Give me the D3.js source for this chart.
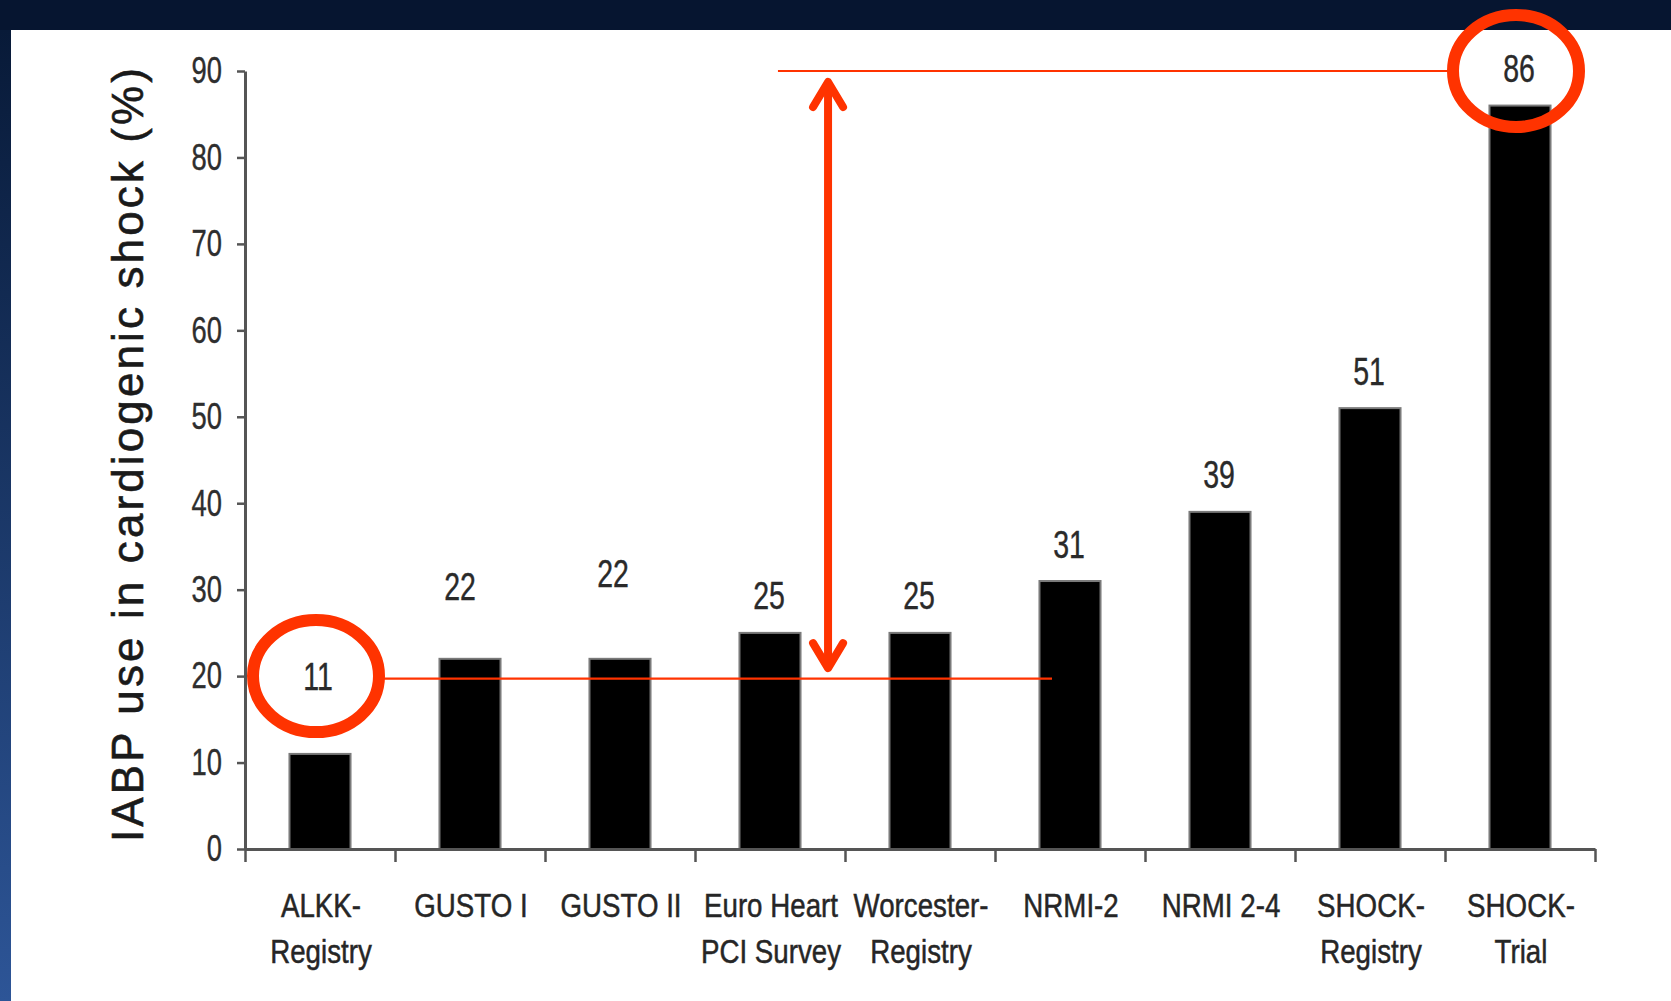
<!DOCTYPE html>
<html>
<head>
<meta charset="utf-8">
<script src="https://cdn.jsdelivr.net/npm/d3@7"></script>
<style>
  html, body { margin: 0; padding: 0; background: #061530; }
  svg { display: block; }
</style>
</head>
<body>
<svg id="chart" width="1671" height="1001"></svg>
<script>
// ---- data ----
const categories = [
  ["ALKK-", "Registry"],
  ["GUSTO I"],
  ["GUSTO II"],
  ["Euro Heart", "PCI Survey"],
  ["Worcester-", "Registry"],
  ["NRMI-2"],
  ["NRMI 2-4"],
  ["SHOCK-", "Registry"],
  ["SHOCK-", "Trial"]
];
const iabpUse = [11, 22, 22, 25, 25, 31, 39, 51, 86];
const yTicks = [0, 10, 20, 30, 40, 50, 60, 70, 80, 90];
const yTitle = "IABP use in cardiogenic shock (%)";
// reference levels joined by the double arrow (lowest vs. highest study)
const lowLevel = 20;
const highLevel = 90;

// ---- layout ----
const W = 1671, H = 1001;
const plot = { left: 245, right: 1595, top: 71, bottom: 849 };
const sans = "'Liberation Sans',Arial,Helvetica,sans-serif";
const red = "#ff3300";
const n = categories.length;
// horizontal squeeze giving the narrow lettering of the chart labels
const tickSqueeze = 0.74, valueSqueeze = 0.75, catSqueeze = 0.84;

const svg = d3.select("#chart");

// slide frame: dark top band, blue gradient strip on the left, white panel
const defs = svg.append("defs");
const grad = defs.append("linearGradient")
  .attr("id", "sideStrip").attr("x1", 0).attr("y1", 0).attr("x2", 0).attr("y2", 1);
grad.append("stop").attr("offset", "0%").attr("stop-color", "#081a38");
grad.append("stop").attr("offset", "100%").attr("stop-color", "#2d5597");

svg.append("rect").attr("width", W).attr("height", H).attr("fill", "#061530");
svg.append("rect").attr("x", 0).attr("y", 30).attr("width", 11).attr("height", H - 30)
  .attr("fill", "url(#sideStrip)");
svg.append("rect").attr("x", 11).attr("y", 30).attr("width", W - 11).attr("height", H - 30)
  .attr("fill", "#ffffff");

// scales
const x = d3.scaleBand()
  .domain(d3.range(n))
  .range([plot.left, plot.right])
  .paddingInner(0.593)
  .paddingOuter(0.2965);
const xi = d3.scaleLinear().domain([0, n]).range([plot.left, plot.right]);
const y = d3.scaleLinear().domain([0, 90]).range([plot.bottom, plot.top]);
const cx = i => x(i) + x.bandwidth() / 2;

// bars
svg.append("g").selectAll("rect")
  .data(iabpUse)
  .join("rect")
  .attr("x", (d, i) => x(i))
  .attr("y", d => y(d))
  .attr("width", x.bandwidth())
  .attr("height", d => y(0) - y(d))
  .attr("fill", "#000")
  .attr("stroke", "#7a7a7a")
  .attr("stroke-width", 2);

// y axis
const tickPad = 23;
const yAxis = svg.append("g")
  .attr("transform", `translate(${plot.left},0)`)
  .call(d3.axisLeft(y).tickValues(yTicks).tickSize(8).tickSizeOuter(0));
yAxis.select(".domain").attr("stroke", "#555").attr("stroke-width", 3);
yAxis.selectAll(".tick line").attr("stroke", "#555").attr("stroke-width", 2.5);
yAxis.selectAll(".tick text")
  .attr("font-family", sans).attr("font-size", 37).attr("fill", "#2e2e2e")
  .attr("stroke", "#2e2e2e").attr("stroke-width", 0.4)
  .attr("x", -tickPad / tickSqueeze)
  .attr("transform", `scale(${tickSqueeze},1)`);

// x axis: ticks sit on the category boundaries
const xAxis = svg.append("g")
  .attr("transform", `translate(0,${plot.bottom})`)
  .call(d3.axisBottom(xi).tickValues(d3.range(n + 1)).tickSize(13).tickSizeOuter(0).tickFormat(""));
xAxis.select(".domain").attr("stroke", "#555").attr("stroke-width", 3);
xAxis.selectAll(".tick line").attr("stroke", "#555").attr("stroke-width", 2.5);

// category labels (one or two lines)
const catG = svg.append("g")
  .attr("font-family", sans).attr("font-size", 33).attr("fill", "#262626")
  .attr("stroke", "#262626").attr("stroke-width", 0.5)
  .attr("text-anchor", "middle");
categories.forEach((lines, i) => {
  const t = catG.append("text")
    .attr("transform", `translate(${cx(i) + 1},917) scale(${catSqueeze},1)`);
  lines.forEach((s, k) => {
    t.append("tspan").attr("x", 0).attr("y", k * 46).text(s);
  });
});

// y axis title
svg.append("text")
  .attr("transform", `translate(143,455) rotate(-90)`)
  .attr("text-anchor", "middle")
  .attr("font-family", sans)
  .attr("font-size", 44)
  .attr("fill", "#1a1a1a")
  .attr("stroke", "#1a1a1a").attr("stroke-width", 0.6)
  .attr("textLength", 774)
  .attr("lengthAdjust", "spacing")
  .text(yTitle);

// value labels; the first three are set higher, by hand, in axis units
const labelPlacement = { 0: [lowLevel, -2], 1: [30.4, -10], 2: [31.9, -7] };
svg.append("g")
  .attr("font-family", sans).attr("font-size", 38).attr("fill", "#2a2a2a")
  .attr("stroke", "#2a2a2a").attr("stroke-width", 0.4)
  .attr("text-anchor", "middle")
  .selectAll("text")
  .data(iabpUse)
  .join("text")
  .attr("transform", (d, i) => {
    const p = labelPlacement[i];
    const lx = cx(i) + (p ? p[1] : -1);
    const ly = y(p ? p[0] : d + 4.3);
    return `translate(${lx},${ly}) scale(${valueSqueeze},1)`;
  })
  .attr("dy", "0.36em")
  .text(d => d);

// annotation: circled extremes, reference lines and the double arrow
const ann = svg.append("g").attr("fill", "none").attr("stroke", red);
const ellRx = 63, ellRy = 56;
const lowCx = cx(0) - 4;
const highCx = cx(n - 1) - 4;

ann.append("ellipse").attr("cx", lowCx).attr("cy", y(lowLevel))
  .attr("rx", ellRx).attr("ry", ellRy).attr("stroke-width", 12);
ann.append("ellipse").attr("cx", highCx).attr("cy", y(highLevel))
  .attr("rx", ellRx).attr("ry", ellRy).attr("stroke-width", 12);

ann.append("line")
  .attr("x1", lowCx + ellRx).attr("x2", xi(5.38))
  .attr("y1", y(lowLevel) + 2.5).attr("y2", y(lowLevel) + 2.5)
  .attr("stroke-width", 2.2);
ann.append("line")
  .attr("x1", xi(3.553)).attr("x2", highCx - ellRx)
  .attr("y1", y(highLevel)).attr("y2", y(highLevel))
  .attr("stroke-width", 2.2);

const ax = xi(3.887);
const topTip = y(highLevel) + 11;
const botTip = y(lowLevel) - 8;
const wing = 15, wingH = 25;
ann.append("line").attr("x1", ax).attr("x2", ax).attr("y1", topTip).attr("y2", botTip)
  .attr("stroke-width", 8);
const arrowHead = d3.line();
ann.append("path")
  .attr("d", arrowHead([[ax - wing, topTip + wingH], [ax, topTip], [ax + wing, topTip + wingH]]))
  .attr("stroke-width", 8).attr("stroke-linecap", "round").attr("stroke-linejoin", "round");
ann.append("path")
  .attr("d", arrowHead([[ax - wing, botTip - wingH], [ax, botTip], [ax + wing, botTip - wingH]]))
  .attr("stroke-width", 8).attr("stroke-linecap", "round").attr("stroke-linejoin", "round");
</script>
</body>
</html>
